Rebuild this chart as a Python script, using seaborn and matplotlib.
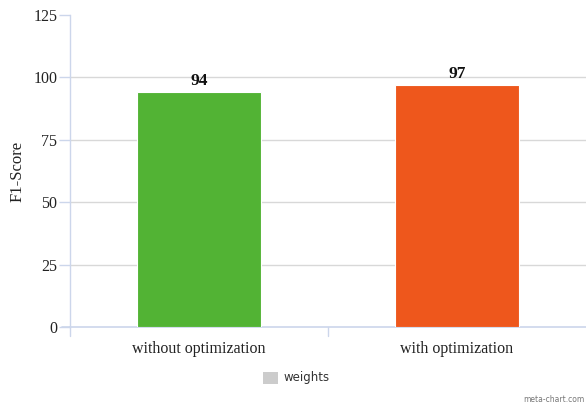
import matplotlib
matplotlib.use("Agg")
import matplotlib.pyplot as plt
import seaborn as sns
import pandas as pd
from matplotlib.patches import Rectangle

categories = ["without optimization", "with optimization"]
f1_scores = [94, 97]
bar_colors = ["#52b334", "#ee571c"]
y_ticks = [0, 25, 50, 75, 100, 125]
legend_label = "weights"

sns.set_theme(style="white")
plt.rcParams["font.family"] = ["Liberation Serif", "DejaVu Serif"]

df = pd.DataFrame({"category": categories, "score": f1_scores})

fig = plt.figure(figsize=(5.86, 4.05), dpi=100)
ax = fig.add_axes([70 / 586, 1 - 327 / 405, 516 / 586, 312 / 405])

sns.barplot(data=df, x="category", y="score", hue="category",
            palette=bar_colors, saturation=1, width=0.48, edgecolor="white",
            linewidth=0.8, legend=False, ax=ax, zorder=3)

ax.set_xlim(-0.5, 1.5)
ax.set_ylim(0, 125)
ax.set_yticks(y_ticks)
ax.set_yticklabels([str(t) for t in y_ticks], fontsize=11.5, color="#222222")
ax.set_xticks([0, 1])
ax.set_xticklabels(categories, fontsize=11.5, color="#222222")
ax.tick_params(axis="x", length=0, pad=10)
ax.tick_params(axis="y", length=8, width=1, color="#ccd6eb", pad=1, left=True)
ax.set_xlabel("")
ax.set_ylabel("F1-Score", fontsize=12, color="#222222", labelpad=6)

for t in y_ticks[1:-1]:
    ax.axhline(t, color="#d8d8d8", linewidth=1, zorder=1)

for s in ["top", "right"]:
    ax.spines[s].set_visible(False)
ax.spines["left"].set_color("#ccd6eb")
ax.spines["left"].set_linewidth(1)
ax.spines["bottom"].set_color("#ccd6eb")
ax.spines["bottom"].set_linewidth(1.2)

# category separator tick and left extension of the x axis
ax.plot([0.5, 0.5], [0, -0.03], transform=ax.get_xaxis_transform(),
        color="#ccd6eb", linewidth=1, clip_on=False)
ax.plot([-0.5, -0.5], [0, -0.03], transform=ax.get_xaxis_transform(),
        color="#ccd6eb", linewidth=1, clip_on=False)
ax.plot([-0.53, -0.5], [0, 0], transform=ax.get_xaxis_transform(),
        color="#ccd6eb", linewidth=1.2, clip_on=False)

for i, v in enumerate(f1_scores):
    ax.text(i, v + 1.2, str(v), ha="center", va="bottom",
            fontsize=12.5, fontweight="bold", color="#111111")

# legend
fig.patches.append(Rectangle((263 / 586, 1 - 384 / 405), 15 / 586, 12 / 405,
                             transform=fig.transFigure, facecolor="#cccccc",
                             edgecolor="none"))
fig.text(284 / 586, 1 - 378 / 405, legend_label, ha="left", va="center",
         fontsize=8.5, color="#333333", family=["DejaVu Sans"])

fig.text(584 / 586, 1 - 399 / 405, "meta-chart.com", ha="right", va="center",
         fontsize=5.5, color="#777777", family=["DejaVu Sans"])

fig.savefig("out.png", dpi=100)
